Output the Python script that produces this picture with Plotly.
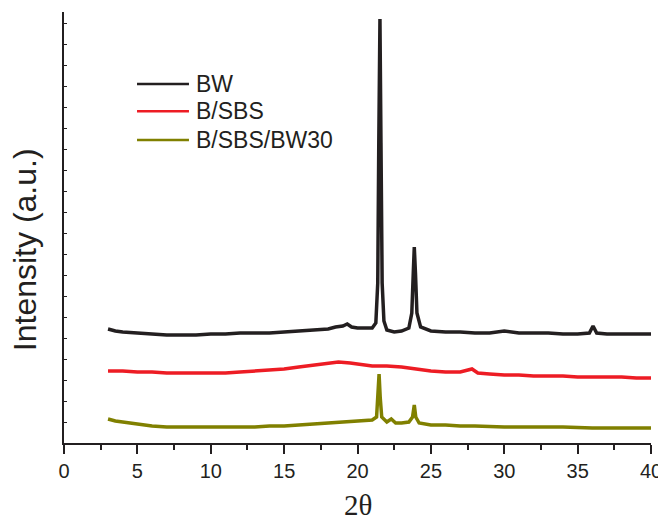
import plotly.graph_objects as go

# ---- data (2theta in degrees, intensity in arbitrary units, curves offset) ----
bw_x = [3.0, 3.5, 4.0, 5.0, 6.0, 7.0, 8.0, 9.0, 10.0, 11.0, 12.0, 13.0, 14.0, 15.0,
        16.0, 17.0, 17.5, 18.0, 18.5, 19.0, 19.3, 19.6, 20.0, 20.5, 21.0, 21.25,
        21.38, 21.45, 21.53, 21.6, 21.68, 21.8, 22.0, 22.5, 23.0, 23.5, 23.7, 23.8,
        23.87, 23.95, 24.05, 24.3, 25.0, 26.0, 27.0, 28.0, 29.0, 30.0, 31.0, 32.0,
        33.0, 34.0, 35.0, 35.8, 36.05, 36.3, 37.0, 38.0, 39.0, 40.0]
bw_y = [114, 112, 111, 110, 109, 108, 108, 108, 109, 109, 110, 110, 110, 111,
        112, 113, 114, 114, 116, 117, 119, 116, 115, 115, 115, 120,
        160, 300, 424, 300, 160, 122, 113, 111, 112, 115, 130, 170,
        196, 170, 130, 116, 112, 111, 111, 110, 110, 112, 110, 110,
        110, 109, 109, 110, 117, 110, 109, 109, 109, 109]

sbs_x = [3.0, 4.0, 5.0, 6.0, 7.0, 8.0, 9.0, 10.0, 11.0, 12.0, 13.0, 14.0, 15.0, 16.0,
         17.0, 18.0, 18.7, 19.5, 20.0, 21.0, 22.0, 23.0, 24.0, 25.0, 26.0, 27.0,
         27.8, 28.2, 29.0, 30.0, 31.0, 32.0, 33.0, 34.0, 35.0, 36.0, 37.0, 38.0,
         39.0, 40.0]
sbs_y = [72, 72, 71, 71, 70, 70, 70, 70, 70, 71, 72, 73, 74, 76,
         78, 80, 81, 80, 79, 77, 77, 76, 74, 72, 71, 71,
         74, 70, 69, 68, 68, 67, 67, 67, 66, 66, 66, 66,
         65, 65]

bw30_x = [3.0, 3.5, 4.0, 5.0, 6.0, 7.0, 8.0, 9.0, 10.0, 11.0, 12.0, 13.0, 14.0, 15.0,
          16.0, 17.0, 18.0, 19.0, 20.0, 21.0, 21.3, 21.4, 21.47, 21.55, 21.65, 22.0,
          22.3, 22.6, 23.0, 23.5, 23.75, 23.87, 23.97, 24.2, 25.0, 26.0, 27.0, 28.0,
          30.0, 32.0, 34.0, 36.0, 38.0, 40.0]
bw30_y = [24, 22, 21, 19, 17, 16, 16, 16, 16, 16, 16, 16, 17, 17,
          18, 19, 20, 21, 22, 23, 26, 45, 69, 45, 26, 21,
          24, 20, 20, 21, 26, 38, 26, 20, 18, 18, 17, 17,
          16, 16, 16, 15, 15, 15]

series_names = ["BW", "B/SBS", "B/SBS/BW30"]
series_colors = ["#231f20", "#ed1c24", "#808000"]
series_x = [bw_x, sbs_x, bw30_x]
series_y = [bw_y, sbs_y, bw30_y]

x_tick_vals = [0, 5, 10, 15, 20, 25, 30, 35, 40]

AXC = "#231f20"
FONT = "Liberation Sans, Arial, sans-serif"

fig = go.Figure()
for name, col, xs, ys in zip(series_names, series_colors, series_x, series_y):
    fig.add_trace(go.Scatter(x=xs, y=ys, mode="lines", name=name,
                             line=dict(color=col, width=3.5), showlegend=False))

# custom legend (long line samples as in the original)
leg_y = [0.833, 0.770, 0.703]
for name, col, ly in zip(series_names, series_colors, leg_y):
    fig.add_shape(type="line", xref="paper", yref="paper",
                  x0=0.1244, x1=0.2129, y0=ly, y1=ly,
                  line=dict(color=col, width=2.5))
    fig.add_annotation(xref="paper", yref="paper", x=0.2215, y=ly,
                       xanchor="left", yanchor="middle", showarrow=False,
                       text=name, font=dict(family=FONT, size=23, color=AXC))

# axis titles
fig.add_annotation(xref="paper", yref="paper", x=0.5, y=-0.143,
                   xanchor="center", yanchor="middle", showarrow=False,
                   text="2θ", font=dict(family="Liberation Serif, Times New Roman, serif",
                                         size=29, color=AXC))
fig.add_annotation(xref="paper", yref="paper", x=-0.066, y=0.448,
                   xanchor="center", yanchor="middle", showarrow=False,
                   textangle=-90, text="Intensity (a.u.)",
                   font=dict(family=FONT, size=32, color=AXC))

# page body has an 8px margin, so margins are shifted to compensate
fig.update_layout(
    width=666, height=522,
    margin=dict(l=56, r=23, t=4, b=87),
    paper_bgcolor="white", plot_bgcolor="white",
    font=dict(family=FONT, color=AXC),
)
fig.update_xaxes(
    range=[0, 40], tickvals=x_tick_vals, ticktext=[str(v) for v in x_tick_vals],
    ticks="outside", ticklen=9, tickwidth=1.5, tickcolor=AXC,
    minor=dict(dtick=2.5, tick0=0, ticks="outside", ticklen=5, tickwidth=1.5, tickcolor=AXC),
    showline=True, linecolor=AXC, linewidth=1.5, showgrid=False, zeroline=False,
    tickfont=dict(family=FONT, size=20, color=AXC),
)
fig.update_yaxes(
    range=[0, 431], tick0=0, dtick=21, ticks="inside", ticklen=3, tickwidth=1, tickcolor=AXC,
    showticklabels=False, showline=True, linecolor=AXC, linewidth=1.5,
    showgrid=False, zeroline=False,
)

fig.write_html("out.html")
